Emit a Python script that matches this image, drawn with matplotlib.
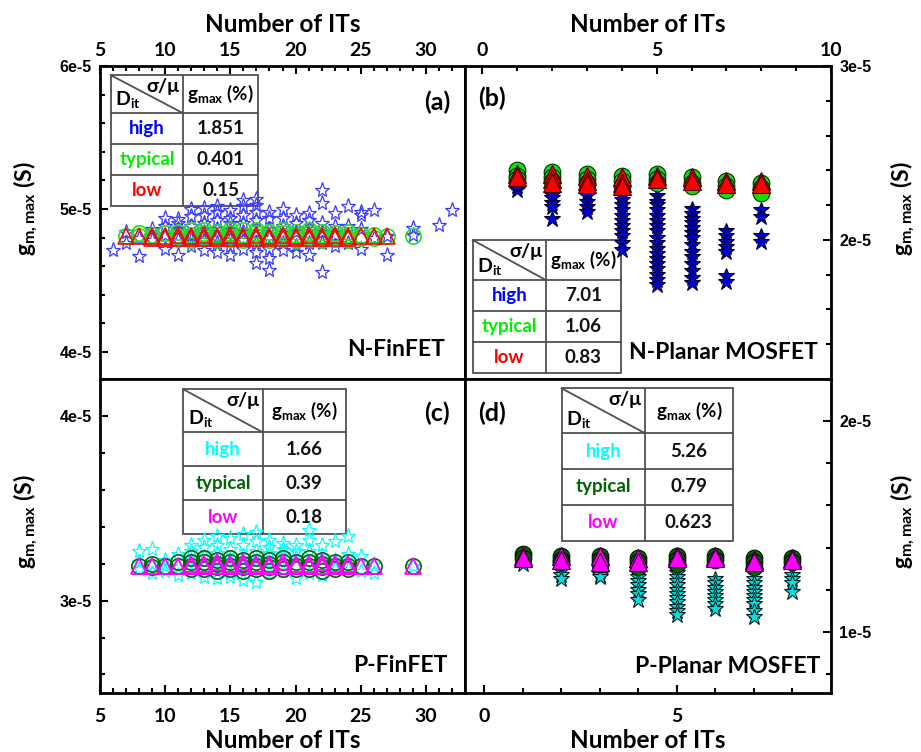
import numpy as np
import matplotlib
matplotlib.use('Agg')
import matplotlib.pyplot as plt
from matplotlib.ticker import MultipleLocator, FuncFormatter
from matplotlib.lines import Line2D
from matplotlib.patches import Rectangle

plt.rcParams['font.family'] = ['Lato', 'DejaVu Sans']
plt.rcParams['font.weight'] = 'bold'
plt.rcParams['mathtext.fontset'] = 'custom'
plt.rcParams['mathtext.rm'] = 'Lato:bold'
plt.rcParams['mathtext.bf'] = 'Lato:bold'
plt.rcParams['mathtext.it'] = 'Lato:bold'

# ---- data, g_m,max in units of 1e-5 S ----
# (a) N-FinFET
a_star_x = [6, 7, 8, 9, 10, 11, 12, 13, 14, 15, 16, 17, 18, 19, 20, 21, 22, 23, 24, 25, 26, 27, 29, 31, 32]
a_star_y = [[4.71], [4.76, 4.84], [4.67, 4.80], [4.78, 4.86],
            [4.94, 4.72, 4.82, 4.88], [4.93, 4.68, 4.78, 4.86, 4.90],
            [5.00, 4.74, 4.82, 4.88, 4.95, 4.78], [5.01, 4.71, 4.84, 4.90, 4.96, 4.78],
            [4.70, 4.98, 4.86, 4.92, 4.76, 4.80, 5.02], [4.94, 4.68, 4.85, 4.78, 4.90, 4.99, 4.74],
            [5.06, 4.72, 4.90, 4.84, 4.96, 4.78, 5.02], [5.07, 4.62, 4.92, 4.84, 4.98, 4.76, 4.70, 5.03],
            [4.57, 4.94, 4.86, 4.98, 4.72, 4.66, 4.80], [5.00, 4.71, 4.88, 4.94, 4.76, 4.82],
            [4.96, 4.74, 4.90, 4.84, 4.70], [4.68, 4.92, 4.86, 4.97, 4.76],
            [5.13, 4.56, 5.04, 4.90, 4.76, 4.84], [4.97, 4.74, 4.88, 4.82],
            [5.02, 4.76, 4.88], [4.98, 4.72, 4.86, 4.96], [4.99, 4.80],
            [4.68, 4.81], [4.87, 4.82], [4.89], [4.99]]
a_circ_x = [7, 8, 9, 10, 11, 12, 13, 14, 15, 16, 17, 18, 19, 20, 21, 22, 23, 24, 25, 26, 27, 29]
a_circ_y = [[4.81], [4.81, 4.83], [4.80, 4.82], [4.80, 4.83], [4.79, 4.81, 4.84],
            [4.78, 4.80, 4.82, 4.85], [4.79, 4.81, 4.83, 4.85], [4.78, 4.80, 4.82, 4.84],
            [4.79, 4.81, 4.83, 4.85], [4.78, 4.80, 4.82, 4.85], [4.79, 4.81, 4.83, 4.85],
            [4.78, 4.80, 4.82, 4.84], [4.79, 4.81, 4.83, 4.85], [4.78, 4.80, 4.82, 4.84],
            [4.79, 4.81, 4.83, 4.85], [4.78, 4.80, 4.82, 4.84], [4.79, 4.81, 4.83],
            [4.78, 4.80, 4.82, 4.84], [4.80, 4.82], [4.80, 4.82], [4.81], [4.81]]
a_tri_x = [7, 8, 9, 10, 11, 12, 13, 14, 15, 16, 17, 18, 19, 20, 21, 22, 23, 24, 25, 26, 27]
a_tri_y = [[4.81], [4.81], [4.80, 4.81], [4.80, 4.81], [4.80, 4.82], [4.80, 4.81],
           [4.80, 4.82], [4.80, 4.81], [4.80, 4.82], [4.80, 4.81], [4.80, 4.82],
           [4.80, 4.81], [4.80, 4.82], [4.80, 4.81], [4.80, 4.82], [4.80, 4.81],
           [4.80, 4.82], [4.80, 4.81], [4.81], [4.81], [4.81]]

# (b) N-Planar MOSFET
b_x = [1, 2, 3, 4, 5, 6, 7, 8]
b_star_y = [[2.29, 2.31],
            [2.29, 2.26, 2.24, 2.21, 2.19, 2.12],
            [2.30, 2.27, 2.25, 2.22, 2.19, 2.16],
            [2.31, 2.28, 2.26, 2.23, 2.20, 2.17, 2.14, 2.11, 2.08, 2.05, 2.02, 1.98, 1.94],
            [2.25, 2.22, 2.20, 2.17, 2.14, 2.11, 2.08, 2.05, 2.01, 1.98, 1.95, 1.92,
             1.89, 1.86, 1.83, 1.80, 1.77, 1.74],
            [2.18, 2.15, 2.12, 2.10, 2.07, 2.04, 2.01, 1.97, 1.93, 1.90, 1.86, 1.82, 1.78, 1.75],
            [2.05, 2.02, 1.99, 1.96, 1.93, 1.79, 1.76],
            [2.17, 2.13, 2.02, 1.99]]
b_circ_y = [[2.40, 2.37, 2.35], [2.39, 2.36, 2.34], [2.38, 2.35, 2.33], [2.37, 2.34, 2.31],
            [2.38, 2.35, 2.33], [2.36, 2.33, 2.31], [2.34, 2.31, 2.29], [2.33, 2.30, 2.27]]
b_tri_y = [[2.38, 2.36], [2.38, 2.35, 2.33], [2.37, 2.34, 2.32], [2.36, 2.33, 2.31],
           [2.37, 2.35], [2.36, 2.34], [2.34, 2.32], [2.34, 2.32]]

# (c) P-FinFET
c_star_x = [8, 9, 10, 11, 12, 13, 14, 15, 16, 17, 18, 19, 20, 21, 22, 23, 24, 25, 26, 29]
c_star_y = [[3.27, 3.17, 3.21], [3.28, 3.15, 3.20], [3.22, 3.16, 3.19], [3.25, 3.18, 3.14],
            [3.27, 3.22, 3.15, 3.30], [3.29, 3.24, 3.13, 3.18, 3.33],
            [3.35, 3.26, 3.12, 3.21, 3.30], [3.34, 3.28, 3.15, 3.22, 3.13],
            [3.36, 3.30, 3.11, 3.24, 3.18], [3.37, 3.27, 3.10, 3.22, 3.32],
            [3.33, 3.26, 3.15, 3.21, 3.29], [3.31, 3.25, 3.16, 3.28],
            [3.30, 3.23, 3.12, 3.27], [3.38, 3.27, 3.15, 3.33], [3.30, 3.24, 3.14],
            [3.32, 3.22, 3.17], [3.35, 3.25, 3.17], [3.24, 3.16], [3.20, 3.15], [3.19]]
c_circ_x = [8, 9, 10, 11, 12, 13, 14, 15, 16, 17, 18, 19, 20, 21, 22, 23, 24, 25, 26, 29]
c_circ_y = [[3.19], [3.18, 3.20], [3.19], [3.19, 3.21], [3.17, 3.19, 3.21, 3.23],
            [3.17, 3.19, 3.21, 3.23], [3.16, 3.18, 3.20, 3.22], [3.17, 3.19, 3.21, 3.23],
            [3.16, 3.18, 3.20, 3.22], [3.17, 3.19, 3.21, 3.23], [3.16, 3.18, 3.20, 3.22],
            [3.17, 3.19, 3.21, 3.23], [3.17, 3.19, 3.21], [3.17, 3.19, 3.21, 3.23],
            [3.16, 3.18, 3.20, 3.22], [3.17, 3.19, 3.21], [3.17, 3.19, 3.21],
            [3.19], [3.19], [3.19]]
c_tri_x = [8, 9, 10, 11, 12, 13, 14, 15, 16, 17, 18, 19, 20, 21, 22, 23, 24, 25, 26, 29]
c_tri_y = [[3.19], [3.19], [3.19], [3.19], [3.19, 3.20], [3.19, 3.20], [3.19, 3.21],
           [3.19, 3.20], [3.19, 3.21], [3.19, 3.20], [3.19, 3.20], [3.19, 3.21],
           [3.19, 3.20], [3.19, 3.20], [3.19, 3.21], [3.19, 3.20], [3.19, 3.20],
           [3.19], [3.19], [3.19]]

# (d) P-Planar MOSFET
d_x = [1, 2, 3, 4, 5, 6, 7, 8]
d_star_y = [[1.32],
            [1.31, 1.29, 1.27, 1.25],
            [1.31, 1.29, 1.27, 1.26],
            [1.30, 1.28, 1.26, 1.24, 1.22, 1.20, 1.18, 1.15],
            [1.30, 1.28, 1.26, 1.24, 1.22, 1.20, 1.18, 1.16, 1.14, 1.12, 1.10, 1.08],
            [1.25, 1.23, 1.21, 1.19, 1.17, 1.15, 1.13, 1.11],
            [1.25, 1.23, 1.21, 1.19, 1.17, 1.15, 1.13, 1.10, 1.07],
            [1.27, 1.25, 1.23, 1.19]]
d_circ_y = [[1.37, 1.35], [1.36, 1.34, 1.33], [1.36, 1.34, 1.32], [1.35, 1.33, 1.31],
            [1.36, 1.34, 1.32], [1.36, 1.34], [1.35, 1.33, 1.31], [1.35, 1.33]]
d_tri_y = [[1.36, 1.35], [1.36, 1.34], [1.36, 1.33], [1.35, 1.33],
           [1.36, 1.35], [1.36, 1.35], [1.34, 1.33], [1.35, 1.34]]

# table contents
dit_names = ['high', 'typical', 'low']
a_sigma = ['1.851', '0.401', '0.15']
b_sigma = ['7.01', '1.06', '0.83']
c_sigma = ['1.66', '0.39', '0.18']
d_sigma = ['5.26', '0.79', '0.623']

N_COLORS = ['#0000ff', '#00ee00', '#ff0000']
P_COLORS = ['#00ffff', '#006400', '#ff00ff']


def expand(xs, ys):
    px, py = [], []
    for x, col in zip(xs, ys):
        px += [x] * len(col)
        py += col
    return np.array(px), np.array(py) * 1e-5


def hollow(ax, xs, ys, marker, ms, color, z, mew=0.9):
    x, y = expand(xs, ys)
    ax.plot(x, y, ls='none', marker=marker, ms=ms, mfc='none', mec=color,
            mew=mew, zorder=z)


def filled(ax, xs, ys, marker, ms, color, edge, z):
    x, y = expand(xs, ys)
    ax.plot(x, y, ls='none', marker=marker, ms=ms, mfc=color, mec=edge,
            mew=0.8, zorder=z)


def draw_table(ax, box, values, colors):
    left, mid, right, top, hdr, bottom = box
    lc = '#505050'
    ax.add_patch(Rectangle((left, bottom), right - left, top - bottom,
                           transform=ax.transAxes, fc='white', ec=lc, lw=1.3, zorder=1))
    rh = (hdr - bottom) / 3
    segs = [([left, right], [hdr, hdr]),
            ([left, right], [hdr - rh, hdr - rh]),
            ([left, right], [hdr - 2 * rh, hdr - 2 * rh]),
            ([mid, mid], [bottom, top]),
            ([left, mid], [top, hdr])]
    for xs, ys in segs:
        ax.add_line(Line2D(xs, ys, transform=ax.transAxes, color=lc, lw=1.3, zorder=1.1))
    tk = dict(transform=ax.transAxes, fontweight='bold', zorder=1.2)
    ax.text(mid - 0.010, top - 0.008, 'σ/μ', ha='right', va='top', fontsize=14,
            family=['Lato', 'DejaVu Sans'], **tk)
    ax.text(left + 0.012, hdr + 0.010, r'$\mathbf{D}_{\mathbf{it}}$', ha='left',
            va='bottom', fontsize=14, **tk)
    ax.text((mid + right) / 2, (top + hdr) / 2, r'$\mathbf{g}_{\mathbf{max}}$ (%)',
            ha='center', va='center', fontsize=13.5, **tk)
    for k in range(3):
        yc = hdr - (k + 0.5) * rh
        ax.text((left + mid) / 2, yc, dit_names[k], ha='center', va='center',
                color=colors[k], fontsize=13.5, **tk)
        ax.text((mid + right) / 2, yc, values[k], ha='center', va='center',
                color='#111111', fontsize=13.5, **tk)


def setup(ax, xlim, ylim, xside, yside):
    ax.set_xlim(*xlim)
    ax.set_ylim(*ylim)
    ax.xaxis.set_major_locator(MultipleLocator(5))
    ax.xaxis.set_minor_locator(MultipleLocator(1))
    ax.yaxis.set_major_locator(MultipleLocator(1e-5))
    ax.yaxis.set_minor_locator(MultipleLocator(0.2e-5))
    ax.yaxis.set_major_formatter(FuncFormatter(lambda v, p: f"{int(round(v / 1e-5))}e-5"))
    for s in ax.spines.values():
        s.set_linewidth(2.0)
    top = xside == 'top'
    right = yside == 'right'
    ax.tick_params(which='both', direction='in', width=1.5,
                   top=top, bottom=not top, labeltop=top, labelbottom=not top,
                   left=not right, right=right, labelleft=not right, labelright=right)
    ax.tick_params(which='major', length=6)
    ax.tick_params(which='minor', length=3.5)
    ax.tick_params(axis='x', pad=5 if top else 11, labelsize=14)
    ax.tick_params(axis='y', pad=6, labelsize=11.5, labelfontfamily='Liberation Sans')
    if top:
        ax.text(0.5, 1.134, 'Number of ITs', transform=ax.transAxes, ha='center',
                va='center', fontsize=17.5, fontweight='bold')
    else:
        ax.text(0.5, -0.150, 'Number of ITs', transform=ax.transAxes, ha='center',
                va='center', fontsize=17.5, fontweight='bold')
    yl = r'$\mathbf{g}_{\mathbf{m,max}}$ (S)'
    ax.text(1.197 if right else -0.203, 0.545, yl, transform=ax.transAxes, rotation=90,
            ha='center', va='center', fontsize=16.5, fontweight='bold')


fig = plt.figure(figsize=(9.21, 7.52), dpi=100)
axa = fig.add_axes([0.1086, 0.496, 0.3963, 0.4162])
axb = fig.add_axes([0.5049, 0.496, 0.3974, 0.4162])
axc = fig.add_axes([0.1086, 0.0785, 0.3963, 0.4176])
axd = fig.add_axes([0.5049, 0.0785, 0.3974, 0.4176])

# (a)
hollow(axa, a_star_x, a_star_y, '*', 11, '#3a3aff', 2)
hollow(axa, a_circ_x, a_circ_y, 'o', 11, '#22dd22', 3, mew=1.2)
hollow(axa, a_tri_x, a_tri_y, '^', 12, '#ff0000', 4, mew=1.1)
setup(axa, (5, 33), (3.81e-5, 6.0005e-5), 'top', 'left')
draw_table(axa, (0.029, 0.228, 0.433, 0.971, 0.849, 0.553), a_sigma, N_COLORS)
axa.text(0.923, 0.885, '(a)', transform=axa.transAxes, ha='center', va='center',
         fontsize=18, fontweight='bold')
axa.text(0.945, 0.093, 'N-FinFET', transform=axa.transAxes, ha='right', va='center',
         fontsize=16.5, fontweight='bold')

# (b)
filled(axb, b_x, b_star_y, '*', 12, '#0000dd', '#000033', 2)
filled(axb, b_x, b_circ_y, 'o', 12, '#11dd11', '#003300', 3)
filled(axb, b_x, b_tri_y, '^', 13, '#ff0000', '#440000', 4)
setup(axb, (-0.5, 10), (1.2e-5, 3.0003e-5), 'top', 'right')
draw_table(axb, (0.021, 0.221, 0.426, 0.444, 0.316, 0.018), b_sigma, N_COLORS)
axb.text(0.074, 0.898, '(b)', transform=axb.transAxes, ha='center', va='center',
         fontsize=18, fontweight='bold')
axb.text(0.964, 0.086, 'N-Planar MOSFET', transform=axb.transAxes, ha='right',
         va='center', fontsize=16.5, fontweight='bold')

# (c)
hollow(axc, c_star_x, c_star_y, '*', 11, '#00ffff', 2)
hollow(axc, c_circ_x, c_circ_y, 'o', 11, '#006400', 3, mew=1.2)
hollow(axc, c_tri_x, c_tri_y, '^', 12, '#ff00ff', 4, mew=1.3)
setup(axc, (5, 33), (2.5e-5, 4.2e-5), 'bottom', 'left')
draw_table(axc, (0.228, 0.446, 0.673, 0.967, 0.830, 0.506), c_sigma, P_COLORS)
axc.text(0.923, 0.892, '(c)', transform=axc.transAxes, ha='center', va='center',
         fontsize=18, fontweight='bold')
axc.text(0.951, 0.089, 'P-FinFET', transform=axc.transAxes, ha='right', va='center',
         fontsize=16.5, fontweight='bold')

# (d)
filled(axd, d_x, d_star_y, '*', 12, '#00e0e0', '#002222', 2)
filled(axd, d_x, d_circ_y, 'o', 12, '#006400', '#001100', 3)
filled(axd, d_x, d_tri_y, '^', 13, '#ff00ff', '#330033', 4)
setup(axd, (-0.5, 9), (0.71e-5, 2.2e-5), 'bottom', 'right')
draw_table(axd, (0.264, 0.492, 0.731, 0.970, 0.827, 0.485), d_sigma, P_COLORS)
axd.text(0.074, 0.892, '(d)', transform=axd.transAxes, ha='center', va='center',
         fontsize=18, fontweight='bold')
axd.text(0.970, 0.083, 'P-Planar MOSFET', transform=axd.transAxes, ha='right',
         va='center', fontsize=16.5, fontweight='bold')

fig.canvas.draw()
for ax in (axa, axb, axc, axd):
    for lab in ax.get_yticklabels():
        lab.set_fontweight('bold')
    for lab in ax.get_xticklabels():
        lab.set_fontweight('bold')

fig.savefig('out.png', dpi=100)
